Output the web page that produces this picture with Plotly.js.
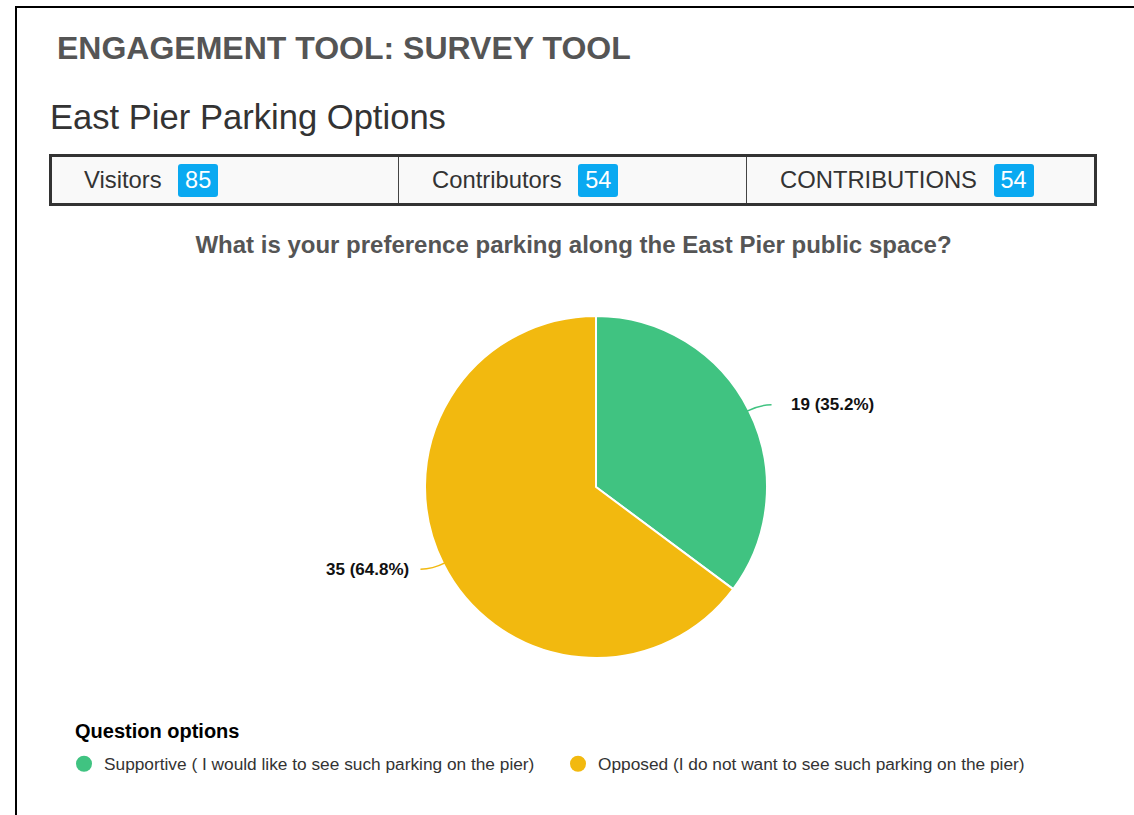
<!DOCTYPE html>
<html>
<head>
<meta charset="utf-8">
<script src="https://cdn.plot.ly/plotly-3.0.1.min.js"></script>
<style>
  html, body { margin:0; padding:0; background:#fff; width:1134px; height:815px; overflow:hidden;
    font-family:"Liberation Sans", Arial, Helvetica, sans-serif; }
  #frame { position:absolute; left:15px; top:6px; right:0; bottom:0; border-left:2px solid #000; border-top:2px solid #000; z-index:5; pointer-events:none; }
  #plot { position:absolute; left:0; top:0; width:1134px; height:815px; z-index:1; }
  .h1 { position:absolute; left:57px; top:32px; font-size:32px; line-height:32px; font-weight:bold; color:#555; white-space:nowrap; z-index:3; }
  .h2 { position:absolute; left:50px; top:100px; font-size:34.6px; line-height:35px; color:#333; white-space:nowrap; z-index:3; }
  #stats { position:absolute; left:49px; top:154px; width:1048px; height:52px; box-sizing:border-box; border:3px solid #333;
    background:#f9f9f9; display:flex; z-index:3; }
  .cell { flex:1 1 0; display:flex; align-items:center; padding-left:33px; box-sizing:border-box; font-size:23.8px; color:#333; border-left:1px solid #444; }
  .cell:first-child { border-left:none; padding-left:32px; }
  .badge { margin-left:16.5px; background:#0aa9f1; color:#fff; height:33px; line-height:33px; padding:0 7px; border-radius:3px; font-size:23.5px; }
</style>
</head>
<body>
<div id="frame"></div>
<div class="h1" id="pageTitle"></div>
<div class="h2" id="surveyTitle"></div>
<div id="stats"></div>
<div id="plot"></div>
<script>
// ---- data ----
var pageHeading = "ENGAGEMENT TOOL: SURVEY TOOL";
var surveyName = "East Pier Parking Options";
var statLabels = ["Visitors", "Contributors", "CONTRIBUTIONS"];
var statValues = [85, 54, 54];
var question = "What is your preference parking along the East Pier public space?";
var categories = ["Supportive ( I would like to see such parking on the pier)", "Opposed (I do not want to see such parking on the pier)"];
var counts = [19, 35];
var sliceColors = ["#40c381", "#f2b90f"];
var legendHeading = "Question options";

// ---- header (HTML) ----
document.getElementById("pageTitle").textContent = pageHeading;
document.getElementById("surveyTitle").textContent = surveyName;
var stats = document.getElementById("stats");
statLabels.forEach(function(l, i){
  var c = document.createElement("div"); c.className = "cell";
  var s = document.createElement("span"); s.textContent = l; c.appendChild(s);
  var b = document.createElement("span"); b.className = "badge"; b.textContent = statValues[i]; c.appendChild(b);
  stats.appendChild(c);
});

// ---- chart ----
var W = 1134, H = 815;
function px(x){ return x / W; }
function py(y){ return 1 - y / H; }
var cx = 596, cy = 487, R = 171;
var FONT = "Liberation Sans, Arial, Helvetica, sans-serif";

var total = counts.reduce(function(a,b){return a+b;}, 0);
var shapes = [], annotations = [];
var cum = 0;
counts.forEach(function(v, i){
  var theta = (cum + v/2) / total * 2 * Math.PI;
  cum += v;
  var dx = Math.sin(theta), dy = -Math.cos(theta);
  var sgn = dx >= 0 ? 1 : -1;
  var p0 = [cx + (R-2)*dx, cy + (R-2)*dy];
  var p1 = [cx + (R+12)*dx, cy + (R+12)*dy];
  var p2 = [p1[0] + sgn*12, p1[1]];
  shapes.push({type:"path", xref:"paper", yref:"paper",
    path:"M"+px(p0[0])+","+py(p0[1])+" Q"+px(p1[0])+","+py(p1[1])+" "+px(p2[0])+","+py(p2[1]),
    line:{color:sliceColors[i], width:1.5}});
  var pct = (v/total*100).toFixed(1);
  annotations.push({xref:"paper", yref:"paper", showarrow:false,
    x: px(p2[0] + (sgn > 0 ? 17 : -9)), y: py(p2[1]),
    xanchor: sgn > 0 ? "left" : "right", yanchor:"middle",
    text: v + " (" + pct + "%)", font:{family:FONT, size:17, color:"#111", weight:"bold"}});
});
annotations.push({xref:"paper", yref:"paper", showarrow:false, x:px(73), y:py(731), xanchor:"left", yanchor:"middle",
  text:"<b>"+legendHeading+"</b>", font:{family:FONT, size:20, color:"#000"}});

var traces = [{
  type:"pie", values:counts, labels:categories, sort:false, direction:"clockwise", rotation:0,
  marker:{colors:sliceColors, line:{color:"#fff", width:2}},
  textinfo:"none", hoverinfo:"label+value+percent", showlegend:false,
  domain:{x:[px(cx-R), px(cx+R)], y:[py(cy+R), py(cy-R)]}
}];
categories.forEach(function(c, i){
  traces.push({type:"scatter", mode:"markers", x:[null], y:[null], name:c,
    marker:{color:sliceColors[i], size:16, symbol:"circle"}, showlegend:true, hoverinfo:"skip"});
});

var layout = {
  width:W, height:H, margin:{l:0, r:0, t:0, b:0},
  paper_bgcolor:"rgba(0,0,0,0)", plot_bgcolor:"rgba(0,0,0,0)",
  font:{family:FONT, color:"#333"},
  title:{text:"<b>"+question+"</b>", x:px(573.5), xanchor:"center", xref:"paper", y:py(245), yref:"paper", yanchor:"middle",
    font:{family:FONT, size:24, color:"#555"}},
  xaxis:{visible:false, range:[0,1]}, yaxis:{visible:false, range:[0,1]},
  showlegend:true,
  legend:{orientation:"h", x:px(64), xanchor:"left", y:py(746), yanchor:"top",
    bgcolor:"rgba(0,0,0,0)", font:{family:FONT, size:17.3, color:"#333"},
    entrywidth:449, entrywidthmode:"pixels", itemclick:false},
  shapes:shapes, annotations:annotations
};
Plotly.newPlot("plot", traces, layout, {displayModeBar:false, staticPlot:true});
</script>
</body>
</html>
